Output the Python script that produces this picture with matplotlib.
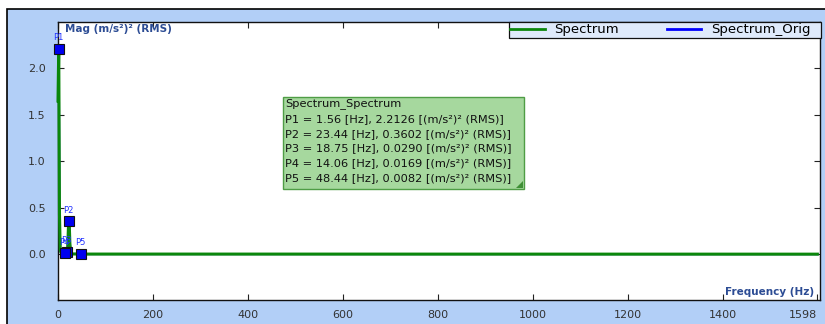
import matplotlib
matplotlib.use("Agg")
import matplotlib.pyplot as plt
from matplotlib.patches import Rectangle, Polygon
from matplotlib.lines import Line2D

# ------------------- Data -------------------
# spectrum bins (Hz) near the low end, then the flat tail up to the last bin
freq = [0.0, 1.56, 3.12, 4.69, 6.25, 7.81, 9.38, 10.94, 12.5, 14.06,
        15.62, 17.19, 18.75, 20.31, 21.88, 23.44, 25.0, 26.56, 28.12,
        29.69, 31.25, 32.81, 34.38, 35.94, 37.5, 39.06, 40.62, 42.19,
        43.75, 45.31, 46.88, 48.44, 50.0, 1598.4]
mag = [1.65, 2.2126, 0.43, 0.05, 0.02, 0.012, 0.010, 0.012, 0.014, 0.0169,
       0.012, 0.018, 0.0290, 0.05, 0.28, 0.3602, 0.12, 0.02, 0.008,
       0.006, 0.005, 0.005, 0.005, 0.005, 0.005, 0.005, 0.005, 0.006,
       0.006, 0.007, 0.007, 0.0082, 0.004, 0.003]

peak_names = ["P1", "P2", "P3", "P4", "P5"]
peak_freq = [1.56, 23.44, 18.75, 14.06, 48.44]
peak_mag = [2.2126, 0.3602, 0.0290, 0.0169, 0.0082]

x_ticks = [0, 200, 400, 600, 800, 1000, 1200, 1400, 1598]
y_ticks = [0.0, 0.5, 1.0, 1.5, 2.0]

W, H = 825, 324
BLUE_BG = "#b2cff7"
AX_LABEL = "#2c4c94"
GREEN = "#0b870b"


def fx(px):
    return px / W


def fy(py):
    return 1 - py / H


# ------------------- Figure -------------------
fig = plt.figure(figsize=(W / 100, H / 100), dpi=100)
fig.patch.set_facecolor("white")
fig.add_artist(Rectangle((fx(7), -0.1), 1.2, fy(9) + 0.1, transform=fig.transFigure,
                         facecolor=BLUE_BG, edgecolor="black", lw=1.2, zorder=0))

ax = fig.add_axes([fx(58), fy(300), fx(820) - fx(58), fy(22) - fy(300)])
ax.set_facecolor("white")
ax.set_xlim(0, 1604)
ax.set_ylim(-0.49, 2.5)

ax.plot(freq, mag, color="#0000ff", lw=1.5, zorder=2)
ax.plot(freq, mag, color=GREEN, lw=2.2, zorder=3, clip_on=False)

ax.plot(peak_freq, peak_mag, linestyle="none", marker="s", markersize=6.5,
        markerfacecolor="#0000f0", markeredgecolor="#111111", markeredgewidth=0.8,
        zorder=4, clip_on=False)
for name, f, m in zip(peak_names, peak_freq, peak_mag):
    ax.annotate(name, (f, m), xytext=(-4, 6), textcoords="offset points",
                fontsize=6, color="#2233ff", zorder=5)

ax.set_xticks(x_ticks)
ax.set_xticklabels([str(t) for t in x_ticks])
ax.get_xticklabels()[-1].set_horizontalalignment("right")
ax.set_yticks(y_ticks)
ax.set_yticklabels(["%.1f" % t for t in y_ticks])
ax.tick_params(direction="in", length=4, width=0.8, top=True, right=True,
               labelsize=8, labelcolor="#333333", color="#222222")
ax.tick_params(axis="y", pad=9)
ax.tick_params(axis="x", pad=7)
for sp in ax.spines.values():
    sp.set_linewidth(1.0)
    sp.set_color("#111111")

ax.text(0.009, 0.992, "Mag (m/s²)² (RMS)", transform=ax.transAxes, ha="left", va="top",
        fontsize=7.5, fontweight="bold", color=AX_LABEL)
ax.text(0.992, 0.012, "Frequency (Hz)", transform=ax.transAxes, ha="right", va="bottom",
        fontsize=7.5, fontweight="bold", color=AX_LABEL)

# ------------------- Legend -------------------
# frame drawn separately so it spans the full strip like the original
fig.add_artist(Rectangle((fx(509), fy(38)), fx(821) - fx(509), fy(22) - fy(38),
                         transform=fig.transFigure, facecolor="#dfeafb",
                         edgecolor="#111111", lw=0.9, zorder=9))
handles = [Line2D([], [], color=GREEN, lw=2), Line2D([], [], color="#0000ff", lw=2)]
leg = fig.legend(handles, ["Spectrum", "Spectrum_Orig"], ncol=2,
                 bbox_to_anchor=(fx(509), fy(22)), loc="upper left",
                 borderaxespad=0, fontsize=9.5, handlelength=2.6,
                 borderpad=0.1, handletextpad=0.75, columnspacing=3.6,
                 frameon=False)
leg.set_zorder(10)

# ------------------- Peak info box -------------------
box_l, box_t, box_r, box_b = 283, 97, 524, 189
fig.add_artist(Rectangle((fx(box_l), fy(box_b)), fx(box_r) - fx(box_l), fy(box_t) - fy(box_b),
                         transform=fig.transFigure, facecolor="#a6d89e",
                         edgecolor="#4f9d45", lw=1.0, zorder=6))
fig.add_artist(Polygon([(fx(box_r - 1), fy(box_b - 1)), (fx(box_r - 1), fy(box_b - 8)),
                        (fx(box_r - 8), fy(box_b - 1))], transform=fig.transFigure,
                       facecolor="#3f8f36", edgecolor="none", zorder=7))
info_lines = ["Spectrum_Spectrum"] + [
    "%s = %.2f [Hz], %.4f [(m/s²)² (RMS)]" % (n, f, m)
    for n, f, m in zip(peak_names, peak_freq, peak_mag)]
for i, line in enumerate(info_lines):
    fig.text(fx(285), fy(104 + i * 14.8), line, ha="left", va="center",
             fontsize=8.2, color="#111111", zorder=8)

fig.savefig("out.png", dpi=100)
